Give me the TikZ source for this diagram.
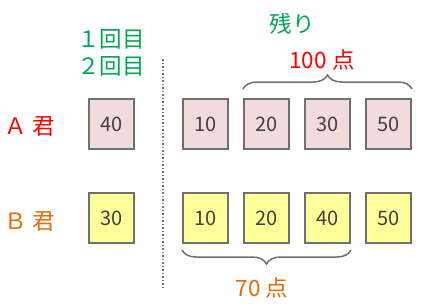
\documentclass[tikz,border=0pt]{standalone}
\usepackage{fontspec}
\newfontfamily\jp{Noto Sans CJK JP}
\usetikzlibrary{decorations.pathreplacing}
\definecolor{scoregreen}{HTML}{00A650}
\definecolor{scorered}{HTML}{FF0000}
\definecolor{scoreorange}{HTML}{E36C09}
\definecolor{pinkfill}{HTML}{F2DCDB}
\definecolor{yellowfill}{HTML}{FFFF99}
\definecolor{edgegray}{HTML}{707070}
\begin{document}
\begin{tikzpicture}[x=1pt,y=-1pt,
  card/.style={draw=edgegray, line width=2pt, minimum width=45pt, minimum height=50pt, inner sep=0pt, font=\jp\fontsize{20}{20}\selectfont, text=black!75},
  pinkcard/.style={card, fill=pinkfill},
  yellowcard/.style={card, fill=yellowfill},
  label/.style={font=\jp\fontsize{22.5}{22.5}\selectfont},
  brace/.style={draw=edgegray, line width=1.5pt, decorate, decoration={brace, amplitude=14pt}}
]
\useasboundingbox (0,0) rectangle (423,306);
% headings
\node[label, text=scoregreen] (first) at (111,39) {１回目};
\node[label, text=scoregreen] (second) at (111,66) {２回目};
\node[label, text=scoregreen] (rest) at (292,24) {残り};
% players
\node[label, text=scorered] (namea) at (30,126) {Ａ 君};
\node[label, text=scoreorange] (nameb) at (30,221) {Ｂ 君};
% divider
\coordinate (divtop) at (163,59);
\coordinate (divbot) at (163,288);
\draw[edgegray, line width=1.5pt, dotted] (divtop) -- (divbot);
% A row
\node[pinkcard] (a0) at (111.5,124) {40};
\node[pinkcard] (a1) at (205.5,124) {10};
\node[pinkcard] (a2) at (266.5,124) {20};
\node[pinkcard] (a3) at (327.5,124) {30};
\node[pinkcard] (a4) at (388.5,124) {50};
% B row
\node[yellowcard] (b0) at (111.5,218) {30};
\node[yellowcard] (b1) at (205.5,218) {10};
\node[yellowcard] (b2) at (266.5,218) {20};
\node[yellowcard] (b3) at (327.5,218) {40};
\node[yellowcard] (b4) at (388.5,218) {50};
% braces and sums
\draw[brace] ([yshift=9pt]a2.north west) -- ([yshift=9pt]a4.north east);
\node[label, text=scorered] (suma) at (322,60) {100 点};
\draw[brace] ([yshift=-6pt]b3.south east) -- ([yshift=-6pt]b1.south west);
\node[label, text=scoreorange] (sumb) at (262,288) {70 点};
\end{tikzpicture}
\end{document}
